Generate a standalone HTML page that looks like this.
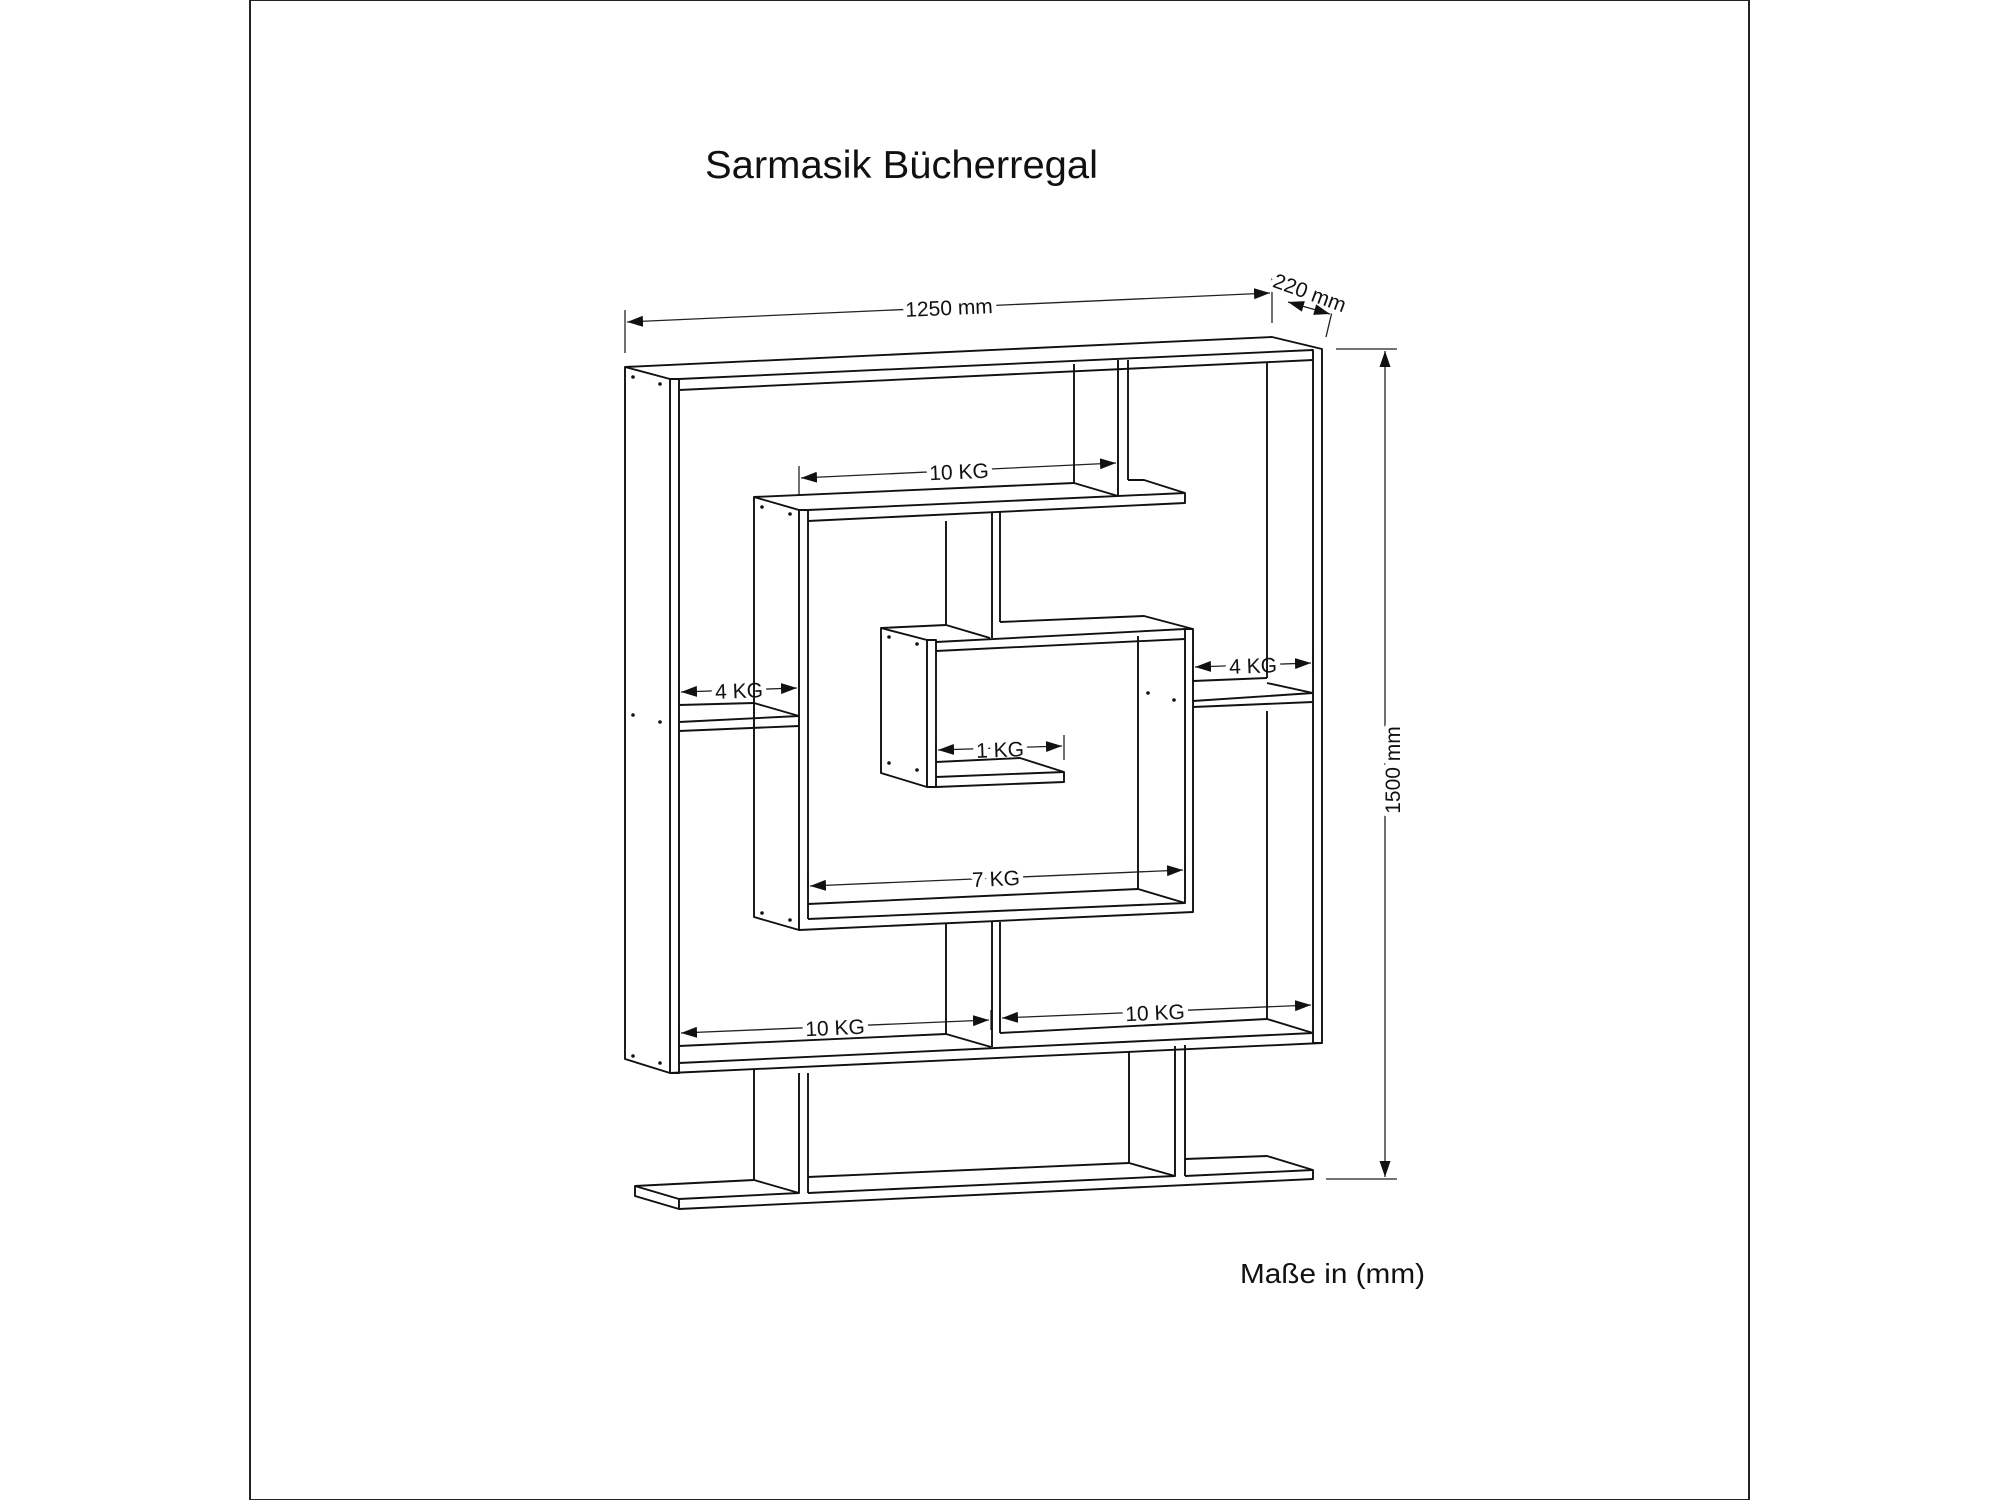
<!DOCTYPE html>
<html><head><meta charset="utf-8"><style>
html,body{margin:0;padding:0;background:#fff;}
svg{display:block;}
text{font-family:"Liberation Sans",Arial,sans-serif;fill:#111;}
</style></head><body>
<svg width="2000" height="1500" viewBox="0 0 2000 1500" xmlns="http://www.w3.org/2000/svg">
<defs>
<marker id="a" viewBox="0 0 10 10" refX="10" refY="5" markerWidth="16" markerHeight="11" markerUnits="userSpaceOnUse" orient="auto-start-reverse" preserveAspectRatio="none"><path d="M0,0 L10,5 L0,10 z" fill="#111"/></marker>
</defs>
<rect x="250" y="0" width="1499" height="1500" fill="none" stroke="#222" stroke-width="2"/>
<text x="705" y="178" font-size="39" textLength="393" lengthAdjust="spacingAndGlyphs">Sarmasik Bücherregal</text>
<text x="1240" y="1283" font-size="28" textLength="185" lengthAdjust="spacingAndGlyphs">Maße in (mm)</text>

<g stroke="#222" stroke-width="1.3" fill="none">
<path d="M625,310 L625,353"/><path d="M1272,278 L1272,323"/>
<path d="M627,322 L1270,293" marker-start="url(#a)" marker-end="url(#a)"/>
<path d="M1336,295 L1326,337"/>
<path d="M1336,349 L1397,349"/><path d="M1326,1179 L1397,1179"/>
<path d="M1385,351 L1385,1177" marker-start="url(#a)" marker-end="url(#a)"/>
<path d="M799,466 L799,495"/><path d="M1118,456 L1118,470"/>
<path d="M801,478 L1116,463" marker-start="url(#a)" marker-end="url(#a)"/>
<path d="M679,682 L679,705"/><path d="M799,675 L799,700"/>
<path d="M681,692 L797,688" marker-start="url(#a)" marker-end="url(#a)"/>
<path d="M1193,657 L1193,681"/><path d="M1313,650 L1313,675"/>
<path d="M1195,667 L1311,663" marker-start="url(#a)" marker-end="url(#a)"/>
<path d="M936,740 L936,760"/><path d="M1064,735 L1064,760"/>
<path d="M938,750 L1062,746" marker-start="url(#a)" marker-end="url(#a)"/>
<path d="M808,870 L808,892"/><path d="M1185,858 L1185,876"/>
<path d="M810,886 L1183,870" marker-start="url(#a)" marker-end="url(#a)"/>
<path d="M679,1022 L679,1046"/><path d="M991,1010 L991,1030"/>
<path d="M681,1033 L989,1020" marker-start="url(#a)" marker-end="url(#a)"/>
<path d="M1000,1010 L1000,1030"/><path d="M1313,995 L1313,1015"/>
<path d="M1002,1018 L1311,1005" marker-start="url(#a)" marker-end="url(#a)"/>
</g>
<g font-size="21" text-anchor="middle" stroke="#fff" stroke-width="10" paint-order="stroke" style="stroke-linejoin:round">
<text x="949" y="315" transform="rotate(-2.5 949 308)">1250 mm</text>
<text x="1310" y="300" transform="rotate(20 1310 292)">220 mm</text>
<text x="1393" y="777" transform="rotate(-90 1393 770)">1500 mm</text>
<text x="959" y="479" transform="rotate(-2.5 959 471)">10 KG</text>
<text x="739" y="698" transform="rotate(-2 739 690)">4 KG</text>
<text x="1253" y="673" transform="rotate(-2 1253 665)">4 KG</text>
<text x="1000" y="757" transform="rotate(-2 1000 749)">1 KG</text>
<text x="996" y="886" transform="rotate(-2.5 996 878)">7 KG</text>
<text x="835" y="1035" transform="rotate(-2.5 835 1027)">10 KG</text>
<text x="1155" y="1020" transform="rotate(-2.5 1155 1012)">10 KG</text>
</g>
<path d="M1288,302 L1330,314" stroke="#222" stroke-width="1.3" fill="none" marker-start="url(#a)" marker-end="url(#a)"/>

<g fill="none" stroke="#111" stroke-width="1.9" stroke-linejoin="round">
<path d="M625,367 L670,379 L670,1073 L625,1059 Z"/>
<path d="M670,379 L679,379 L679,1073 L670,1073"/>
<path d="M625,367 L1272,337 L1322,349 L1322,1043 L1313,1043 L1313,350 L679,379"/>
<path d="M679,390 L1313,360"/>
<path d="M1267,362 L1267,678"/><path d="M1267,711 L1267,1019"/>
<path d="M1074,364 L1074,483"/><path d="M1118,360 L1118,496"/><path d="M1128,360 L1128,480"/>
<path d="M754,497 L799,510 L799,930 L754,917 Z"/>
<path d="M799,510 L808,510 L808,919"/>
<path d="M754,497 L1074,483 L1118,496"/><path d="M1128,480 L1144,480 L1185,493 L1185,503 L808,521"/>
<path d="M808,510 L1185,493"/>
<path d="M799,930 L1193,912 L1193,629 L1185,629 L1185,903 L808,919"/>
<path d="M808,904 L1138,889 L1185,903"/>
<path d="M1138,636 L1138,889"/>
<path d="M946,521 L946,625"/><path d="M992,512 L992,638"/><path d="M1000,512 L1000,622"/>
<path d="M946,923 L946,1034"/><path d="M992,922 L992,1047"/><path d="M1000,922 L1000,1033"/>
<path d="M881,628 L946,625 L990,638"/><path d="M1000,622 L1144,616 L1193,629"/>
<path d="M936,642 L1185,629"/><path d="M936,651 L1185,639"/>
<path d="M881,628 L927,640 L927,787 L881,773 Z"/>
<path d="M927,640 L936,640 L936,787 L927,787"/>
<path d="M936,762 L1020,758 L1064,772 L1064,782 L936,787"/><path d="M936,777 L1064,772"/>
<path d="M679,705 L754,703 L799,716"/><path d="M679,722 L799,716"/><path d="M679,731 L799,726"/>
<path d="M1193,681 L1267,678"/><path d="M1267,683 L1313,693"/><path d="M1193,701 L1313,693"/><path d="M1193,707 L1313,702"/>
<path d="M679,1046 L946,1034 L991,1047"/><path d="M1000,1033 L1267,1019 L1313,1033"/>
<path d="M679,1063 L1313,1033"/><path d="M670,1073 L1322,1043"/>
<path d="M754,1069 L754,1180 L799,1193 L799,1073"/><path d="M808,1073 L808,1193"/>
<path d="M1129,1052 L1129,1163 L1175,1176 L1175,1046"/><path d="M1185,1045 L1185,1176"/>
<path d="M754,1180 L635,1186 L635,1196 L679,1209 L1313,1179 L1313,1170 L1267,1156 L1185,1159"/>
<path d="M808,1177 L1129,1163"/>
<path d="M635,1186 L679,1199 L799,1193"/><path d="M808,1193 L1175,1176"/><path d="M1185,1176 L1313,1170"/>
<path d="M679,1199 L679,1209"/>
</g>
<g fill="#111">
<circle cx="633" cy="377" r="1.8"/><circle cx="660" cy="384" r="1.8"/>
<circle cx="633" cy="715" r="1.8"/><circle cx="660" cy="722" r="1.8"/>
<circle cx="633" cy="1056" r="1.8"/><circle cx="660" cy="1063" r="1.8"/>
<circle cx="889" cy="637" r="1.8"/><circle cx="917" cy="644" r="1.8"/>
<circle cx="889" cy="763" r="1.8"/><circle cx="917" cy="770" r="1.8"/>
<circle cx="1148" cy="693" r="1.8"/><circle cx="1174" cy="700" r="1.8"/>
<circle cx="762" cy="507" r="1.8"/><circle cx="790" cy="514" r="1.8"/>
<circle cx="762" cy="913" r="1.8"/><circle cx="790" cy="920" r="1.8"/>
</g>
</svg>
</body></html>
